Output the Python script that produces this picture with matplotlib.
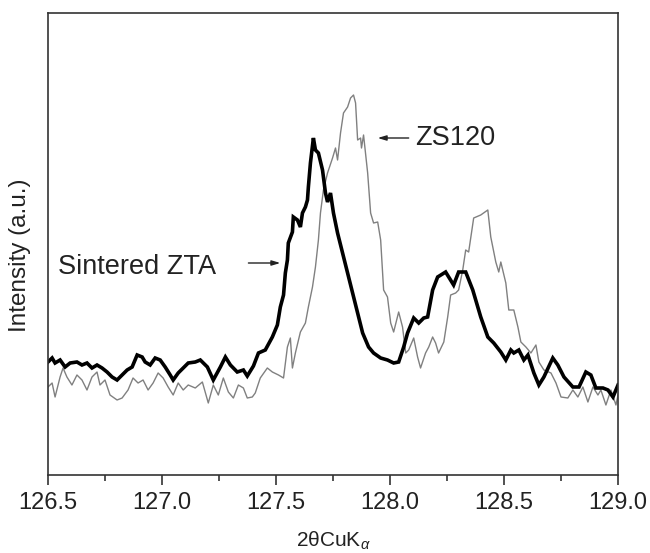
import matplotlib
matplotlib.use('Agg')
import matplotlib.pyplot as plt
from matplotlib.ticker import MultipleLocator, FormatStrFormatter

plt.rcParams['font.family'] = ['Liberation Sans', 'DejaVu Sans']
plt.rcParams['mathtext.fontset'] = 'custom'
plt.rcParams['mathtext.rm'] = 'Liberation Sans'
plt.rcParams['mathtext.it'] = 'Liberation Sans:italic'

# Sintered ZTA scan
zta_2theta = [
    126.500, 126.518, 126.531, 126.553, 126.575, 126.597, 126.627, 126.649, 126.671, 126.693,
    126.715, 126.737, 126.759, 126.781, 126.803, 126.825, 126.847, 126.869, 126.891, 126.913,
    126.926, 126.948, 126.970, 126.992, 127.014, 127.036, 127.049, 127.071, 127.093, 127.115,
    127.146, 127.168, 127.199, 127.225, 127.256, 127.278, 127.300, 127.330, 127.357, 127.374,
    127.401, 127.423, 127.453, 127.484, 127.506, 127.519, 127.533, 127.541, 127.550, 127.554,
    127.572, 127.576, 127.594, 127.607, 127.616, 127.629, 127.638, 127.642, 127.651, 127.664,
    127.673, 127.686, 127.704, 127.717, 127.726, 127.739, 127.752, 127.770, 127.792, 127.814,
    127.836, 127.858, 127.880, 127.906, 127.928, 127.959, 127.989, 128.016, 128.038, 128.060,
    128.077, 128.104, 128.126, 128.148, 128.165, 128.187, 128.209, 128.244, 128.279, 128.301,
    128.332, 128.363, 128.398, 128.429, 128.455, 128.486, 128.508, 128.530, 128.543, 128.565,
    128.587, 128.605, 128.631, 128.653, 128.675, 128.714, 128.736, 128.763, 128.802, 128.829,
    128.859, 128.881, 128.903, 128.934, 128.956, 128.978, 129.000,
]
zta_intensity = [
    113, 117, 112, 115, 108, 112, 113, 110, 112, 107,
    110, 107, 103, 98, 95, 100, 105, 108, 120, 118,
    113, 110, 117, 115, 108, 100, 95, 102, 107, 112,
    113, 115, 108, 95, 108, 118, 110, 103, 105, 99,
    109, 122, 125, 138, 150, 168, 180, 202, 215, 232,
    243, 258, 255, 248, 262, 268, 275, 288, 312, 337,
    325, 322, 305, 282, 273, 282, 262, 242, 222, 202,
    182, 162, 142, 128, 122, 117, 115, 112, 113, 128,
    142, 157, 152, 157, 158, 185, 198, 203, 190, 203,
    203, 185, 158, 138, 132, 123, 115, 125, 122, 125,
    115, 120, 102, 90, 98, 117, 110, 98, 88, 88,
    103, 100, 87, 87, 85, 78, 90,
]

# ZS120 powder scan
zs_2theta = [
    126.500, 126.518, 126.531, 126.553, 126.566, 126.583, 126.605, 126.627, 126.649, 126.671,
    126.693, 126.715, 126.728, 126.750, 126.772, 126.803, 126.825, 126.851, 126.873, 126.895,
    126.917, 126.939, 126.961, 126.983, 127.005, 127.027, 127.049, 127.071, 127.093, 127.115,
    127.146, 127.177, 127.203, 127.225, 127.247, 127.269, 127.291, 127.313, 127.335, 127.357,
    127.374, 127.396, 127.409, 127.431, 127.462, 127.484, 127.511, 127.533, 127.550, 127.563,
    127.572, 127.585, 127.607, 127.629, 127.642, 127.660, 127.673, 127.686, 127.695, 127.708,
    127.726, 127.748, 127.761, 127.770, 127.783, 127.796, 127.814, 127.827, 127.840, 127.849,
    127.858, 127.871, 127.875, 127.884, 127.902, 127.915, 127.928, 127.946, 127.959, 127.972,
    127.989, 128.003, 128.016, 128.038, 128.055, 128.069, 128.082, 128.104, 128.121, 128.134,
    128.156, 128.170, 128.187, 128.200, 128.213, 128.236, 128.253, 128.266, 128.288, 128.301,
    128.319, 128.332, 128.345, 128.367, 128.398, 128.429, 128.442, 128.464, 128.477, 128.486,
    128.508, 128.521, 128.543, 128.561, 128.574, 128.596, 128.618, 128.640, 128.653, 128.675,
    128.706, 128.728, 128.750, 128.780, 128.802, 128.824, 128.846, 128.868, 128.890, 128.912,
    128.925, 128.947, 128.969, 128.991, 129.000,
]
zs_intensity = [
    88, 92, 78, 98, 107, 98, 90, 100, 95, 85,
    98, 103, 90, 95, 80, 75, 77, 85, 97, 92,
    95, 85, 92, 102, 97, 88, 80, 92, 85, 90,
    87, 93, 72, 90, 80, 97, 83, 77, 90, 87,
    77, 78, 82, 97, 107, 103, 100, 97, 128, 137,
    107, 122, 143, 152, 168, 188, 208, 235, 262, 285,
    302, 317, 327, 315, 342, 362, 368, 377, 380, 372,
    335, 337, 327, 340, 302, 262, 252, 253, 235, 185,
    178, 152, 143, 163, 148, 122, 125, 137, 118, 107,
    122, 128, 138, 132, 122, 133, 158, 180, 182, 185,
    205, 225, 223, 257, 260, 265, 238, 213, 203, 213,
    192, 165, 165, 148, 133, 128, 122, 130, 113, 105,
    102, 92, 78, 77, 85, 78, 88, 73, 88, 80,
    85, 70, 85, 70, 80,
]

fig = plt.figure(figsize=(6.5, 5.53), dpi=100)
ax = fig.add_axes([48 / 650, 78 / 553, 570 / 650, 462 / 553])

ax.plot(zs_2theta, zs_intensity, color='#808080', lw=1.0)
ax.plot(zta_2theta, zta_intensity, color='black', lw=2.6, solid_joinstyle='miter')

ax.set_xlim(126.5, 129.0)
ax.set_ylim(0, 462)
ax.xaxis.set_major_locator(MultipleLocator(0.5))
ax.xaxis.set_minor_locator(MultipleLocator(0.25))
ax.xaxis.set_major_formatter(FormatStrFormatter('%.1f'))
ax.set_yticks([])

for side in ax.spines.values():
    side.set_color('#333333')
    side.set_linewidth(1.2)
ax.tick_params(axis='x', which='major', direction='out', length=7, width=1.2,
               color='#333333', labelsize=17, pad=5, labelcolor='#222222')
ax.tick_params(axis='x', which='minor', direction='out', length=4, width=1.2,
               color='#333333')

ax.set_xlabel(r'2θCuK$_{\alpha}$', fontsize=15, color='#222222')
ax.xaxis.set_label_coords(0.5, -0.118)
ax.set_ylabel('Intensity (a.u.)', fontsize=17.5, color='#222222')
ax.yaxis.set_label_coords(-0.03, 0.475)

arrow = dict(arrowstyle='-|>,head_length=0.5,head_width=0.15', color='#222222', lw=1.0,
             shrinkA=0, shrinkB=0)
ax.annotate('', xy=(127.519, 212), xytext=(127.379, 212), arrowprops=arrow)
ax.text(126.544, 208, 'Sintered ZTA', fontsize=19.5, va='center', ha='left', color='#222222')
ax.annotate('', xy=(127.946, 337), xytext=(128.082, 337), arrowprops=arrow)
ax.text(128.112, 337, 'ZS120', fontsize=19.5, va='center', ha='left', color='#222222')

fig.savefig('out.png', dpi=100)
